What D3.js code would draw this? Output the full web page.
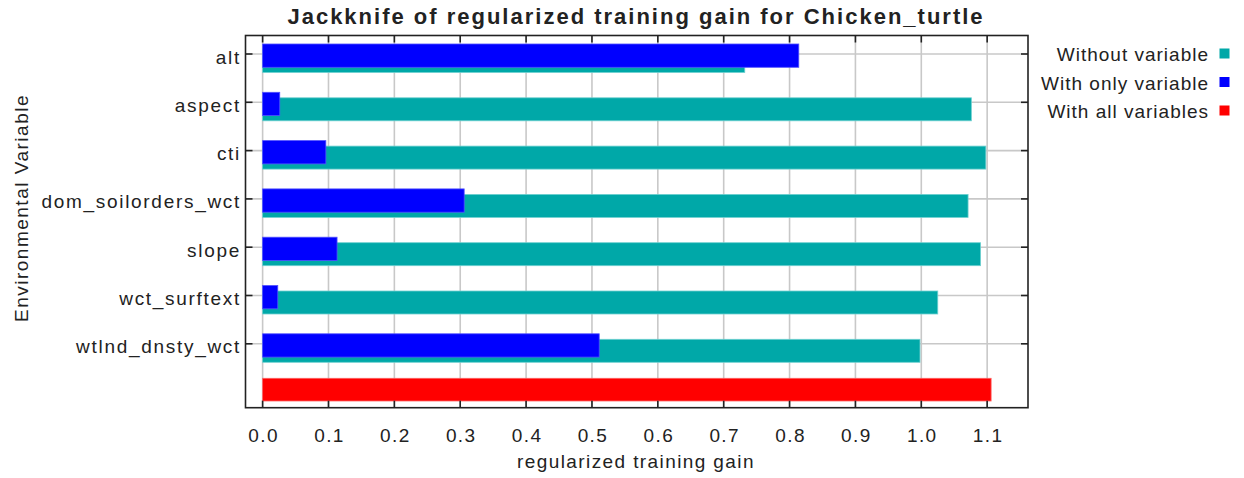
<!DOCTYPE html>
<html>
<head>
<meta charset="utf-8">
<script src="https://d3js.org/d3.v7.min.js"></script>
<style>
  body { margin: 0; background: #fff; }
  text { font-family: "Liberation Sans", Arial, sans-serif; fill: #222; }
</style>
</head>
<body>
<div id="chart"></div>
<script>
// data
var variables = ["alt", "aspect", "cti", "dom_soilorders_wct", "slope", "wct_surftext", "wtlnd_dnsty_wct"];
var withoutVariable = [0.732, 1.076, 1.098, 1.071, 1.090, 1.025, 0.998];
var withOnlyVariable = [0.814, 0.026, 0.096, 0.306, 0.113, 0.023, 0.511];
var withAllVariables = 1.106;
var xTicks = [0, 0.1, 0.2, 0.3, 0.4, 0.5, 0.6, 0.7, 0.8, 0.9, 1.0, 1.1];
var legendLabels = ["Without variable", "With only variable", "With all variables"];
var colors = ["#00a8a8", "#0000ff", "#ff0000"];

var W = 1244, H = 478;
var plot = {left: 245.5, right: 1028, top: 35.5, bottom: 407.7};

var svg = d3.select("#chart")
  .append("svg")
    .attr("width", W)
    .attr("height", H);

// rows: the 7 variables plus the "all variables" row at the bottom
var rows = variables.concat(["__all__"]);

var x = d3.scaleLinear()
  .domain([-0.026, 1.162])
  .range([plot.left, plot.right]);

var y = d3.scalePoint()
  .domain(rows)
  .range([54, 392.1]);

// grid
svg.append("g")
  .selectAll("line")
  .data(xTicks)
  .enter().append("line")
    .attr("x1", function(d) { return x(d); })
    .attr("x2", function(d) { return x(d); })
    .attr("y1", plot.top)
    .attr("y2", plot.bottom)
    .attr("stroke", "#c8c8c8")
    .attr("stroke-width", 1.6);

svg.append("g")
  .selectAll("line")
  .data(variables)
  .enter().append("line")
    .attr("x1", plot.left)
    .attr("x2", plot.right)
    .attr("y1", function(d) { return y(d); })
    .attr("y2", function(d) { return y(d); })
    .attr("stroke", "#c8c8c8")
    .attr("stroke-width", 1.6);

// bars: without variable (teal) under, with only variable (blue) over
svg.append("g")
  .selectAll("rect")
  .data(variables)
  .enter().append("rect")
    .attr("x", x(0))
    .attr("y", function(d) { return y(d) - 4.5; })
    .attr("width", function(d, i) { return x(withoutVariable[i]) - x(0); })
    .attr("height", 23)
    .attr("fill", colors[0])
    .attr("stroke", "#6fd0d0")
    .attr("stroke-width", 0.8);

svg.append("g")
  .selectAll("rect")
  .data(variables)
  .enter().append("rect")
    .attr("x", x(0))
    .attr("y", function(d) { return y(d) - 10; })
    .attr("width", function(d, i) { return x(withOnlyVariable[i]) - x(0); })
    .attr("height", 23.3)
    .attr("fill", colors[1])
    .attr("stroke", "#5050ff")
    .attr("stroke-width", 0.8);

svg.append("rect")
  .attr("x", x(0))
  .attr("y", y("__all__") - 13.8)
  .attr("width", x(withAllVariables) - x(0))
  .attr("height", 22.7)
  .attr("fill", colors[2])
  .attr("stroke", "#ff6060")
  .attr("stroke-width", 0.8);

// frame
svg.append("rect")
  .attr("x", plot.left)
  .attr("y", plot.top)
  .attr("width", plot.right - plot.left)
  .attr("height", plot.bottom - plot.top)
  .attr("fill", "none")
  .attr("stroke", "#222")
  .attr("stroke-width", 1.6);

// ticks, all pointing inward
var tk = 7;
var tickG = svg.append("g").attr("stroke", "#222").attr("stroke-width", 1.6);
xTicks.forEach(function(t) {
  tickG.append("line").attr("x1", x(t)).attr("x2", x(t)).attr("y1", plot.bottom).attr("y2", plot.bottom - tk);
  tickG.append("line").attr("x1", x(t)).attr("x2", x(t)).attr("y1", plot.top).attr("y2", plot.top + tk);
});
variables.forEach(function(v) {
  tickG.append("line").attr("x1", plot.left).attr("x2", plot.left + tk).attr("y1", y(v)).attr("y2", y(v));
  tickG.append("line").attr("x1", plot.right).attr("x2", plot.right - tk).attr("y1", y(v)).attr("y2", y(v));
});

// tick labels
svg.append("g")
  .selectAll("text")
  .data(xTicks)
  .enter().append("text")
    .attr("x", function(d) { return x(d) + 1; })
    .attr("y", 442)
    .attr("text-anchor", "middle")
    .style("font-size", "19px")
    .style("letter-spacing", "1.4px")
    .text(function(d) { return d3.format(".1f")(d); });

svg.append("g")
  .selectAll("text")
  .data(variables)
  .enter().append("text")
    .attr("x", 241)
    .attr("y", function(d) { return y(d) + 9.5; })
    .attr("text-anchor", "end")
    .style("font-size", "19px")
    .style("letter-spacing", "1.7px")
    .text(function(d) { return d; });

// axis titles
svg.append("text")
  .attr("x", 636)
  .attr("y", 468)
  .attr("text-anchor", "middle")
  .style("font-size", "19px")
  .style("letter-spacing", "1.4px")
  .text("regularized training gain");

svg.append("text")
  .attr("transform", "translate(28,208) rotate(-90)")
  .attr("text-anchor", "middle")
  .style("font-size", "19px")
  .style("letter-spacing", "1.5px")
  .text("Environmental Variable");

// title
svg.append("text")
  .attr("x", 636)
  .attr("y", 24)
  .attr("text-anchor", "middle")
  .style("font-size", "22px")
  .style("font-weight", "bold")
  .style("letter-spacing", "2px")
  .text("Jackknife of regularized training gain for Chicken_turtle");

// legend
var legend = svg.append("g")
  .selectAll("g")
  .data(legendLabels)
  .enter().append("g")
    .attr("transform", function(d, i) { return "translate(0," + (i * 28.5) + ")"; });

legend.append("text")
  .attr("x", 1209)
  .attr("y", 61)
  .attr("text-anchor", "end")
  .style("font-size", "19px")
  .style("letter-spacing", "1px")
  .text(function(d) { return d; });

legend.append("rect")
  .attr("x", 1219.5)
  .attr("y", 48.5)
  .attr("width", 10)
  .attr("height", 10)
  .attr("fill", function(d, i) { return colors[i]; });
</script>
</body>
</html>
